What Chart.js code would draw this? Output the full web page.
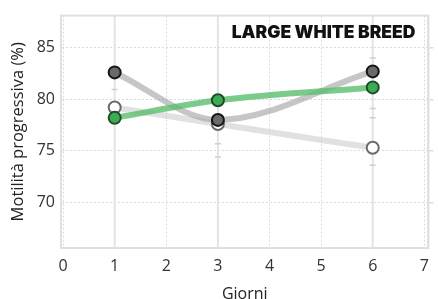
<!DOCTYPE html>
<html><head><meta charset="utf-8">
<script src="https://cdn.jsdelivr.net/npm/chart.js@4"></script>
<style>html,body{margin:0;padding:0;background:#fff}#wrap{width:438px;height:299px}</style>
</head><body><div id="wrap"><canvas id="c" width="438" height="299"></canvas></div>
<script>
const days = [1, 3, 6];
const darkSeries = [82.6, 78.0, 82.7];
const greenSeries = [78.2, 79.9, 81.15];
const openSeries = [79.2, 77.6, 75.3];
const capX = [1, 3, 3, 6, 6, 6, 6];
const capY = [80.95, 75.7, 74.4, 84.0, 79.1, 78.2, 73.6];
const xTicks = [0, 1, 2, 3, 4, 5, 6, 7];
const yTicks = [70, 75, 80, 85];
const chartTitle = 'LARGE WHITE BREED';
const xTitle = 'Giorni';
const yTitle = 'Motilità progressiva (%)';

const pts = (xs, ys) => xs.map((x, i) => ({x, y: ys[i]}));
const FONT = '"Open Sans", sans-serif';

const decor = {
  id: 'decor',
  beforeDatasetsDraw(chart) {
    const {ctx, chartArea: a, scales} = chart;
    ctx.save();
    ctx.strokeStyle = '#e4e4e4';
    ctx.lineWidth = 2;
    days.forEach(d => {
      const px = scales.x.getPixelForValue(d);
      ctx.beginPath(); ctx.moveTo(px, a.top); ctx.lineTo(px, a.bottom); ctx.stroke();
    });
    ctx.strokeStyle = '#e0e0e0';
    ctx.lineWidth = 2;
    ctx.strokeRect(a.left, a.top, a.right - a.left, a.bottom - a.top);
    ctx.restore();
  },
  afterDraw(chart) {
    const {ctx, chartArea: a} = chart;
    ctx.save();
    ctx.font = '900 17.5px Inter, sans-serif';
    ctx.fillStyle = '#111';
    ctx.textAlign = 'right';
    ctx.textBaseline = 'middle';
    ctx.fillText(chartTitle, a.right - 13, a.top + 17);
    ctx.restore();
  }
};

new Chart(document.getElementById('c'), {
  type: 'scatter',
  data: {
    datasets: [
      {data: pts(days, greenSeries), showLine: false, pointRadius: 6, pointHoverRadius: 6,
       pointBackgroundColor: '#3dab55', pointBorderColor: '#1f4d2a', pointBorderWidth: 2, order: 1},
      {data: pts(days, darkSeries), showLine: false, pointRadius: 6, pointHoverRadius: 6,
       pointBackgroundColor: '#6a6a6a', pointBorderColor: '#151515', pointBorderWidth: 2, order: 2},
      {data: pts(days, openSeries), showLine: false, pointRadius: 6, pointHoverRadius: 6,
       pointBackgroundColor: '#ffffff', pointBorderColor: '#6a6a6a', pointBorderWidth: 2, order: 3},
      {data: pts(days, greenSeries), showLine: true, pointRadius: 0, borderColor: 'rgba(90,190,110,0.8)',
       borderWidth: 6, cubicInterpolationMode: 'monotone', order: 4},
      {data: pts(days, darkSeries), showLine: true, pointRadius: 0, borderColor: 'rgba(160,160,160,0.6)',
       borderWidth: 6, cubicInterpolationMode: 'monotone', order: 5},
      {data: pts(days, openSeries), showLine: true, pointRadius: 0, borderColor: 'rgba(205,205,205,0.6)',
       borderWidth: 6, cubicInterpolationMode: 'monotone', order: 6},
      {data: pts(capX, capY), showLine: false, pointStyle: 'line', pointRadius: 3,
       pointBorderColor: '#cfcfcf', pointBorderWidth: 1.5, order: 7}
    ]
  },
  options: {
    responsive: false,
    animation: false,
    events: [],
    layout: {padding: {top: 13, left: 0, right: 0, bottom: 0}},
    plugins: {legend: {display: false}, tooltip: {enabled: false}},
    scales: {
      x: {
        type: 'linear', min: -0.04, max: 7.08,
        afterBuildTicks: s => { s.ticks = xTicks.map(v => ({value: v})); },
        afterFit: s => { s.height = 51; },
        grid: {color: '#dadada', lineWidth: 1, drawTicks: false},
        border: {display: true, color: '#e0e0e0', width: 2, dash: [2, 2]},
        ticks: {color: '#333', font: {family: FONT, size: 16}, padding: 9, callback: v => String(v)},
        title: {display: true, text: xTitle, color: '#222', font: {family: FONT, size: 16, lineHeight: 1}, padding: {top: 0, bottom: -3}}
      },
      y: {
        type: 'linear', min: 65.6, max: 88.1,
        afterBuildTicks: s => { s.ticks = yTicks.map(v => ({value: v})); },
        afterFit: s => { s.width = 61; },
        grid: {color: '#dadada', lineWidth: 1, drawTicks: false},
        border: {display: true, color: '#e0e0e0', width: 2, dash: [2, 2]},
        ticks: {color: '#333', font: {family: FONT, size: 16}, padding: 6, callback: v => String(v)},
        title: {display: true, text: yTitle, color: '#222', font: {family: FONT, size: 16.5, lineHeight: 1.2}, padding: {top: 8, bottom: 0}}
      },
      y2: {
        type: 'linear', position: 'right', min: 65.6, max: 88.1,
        afterBuildTicks: s => { s.ticks = yTicks.map(v => ({value: v})); },
        afterFit: s => { s.width = 6; },
        grid: {drawOnChartArea: false, color: '#dcdcdc', lineWidth: 1.5, drawTicks: true, tickLength: 5},
        border: {display: true, color: '#e0e0e0', width: 2},
        ticks: {display: false}
      }
    }
  },
  plugins: [decor]
});
</script></body></html>
